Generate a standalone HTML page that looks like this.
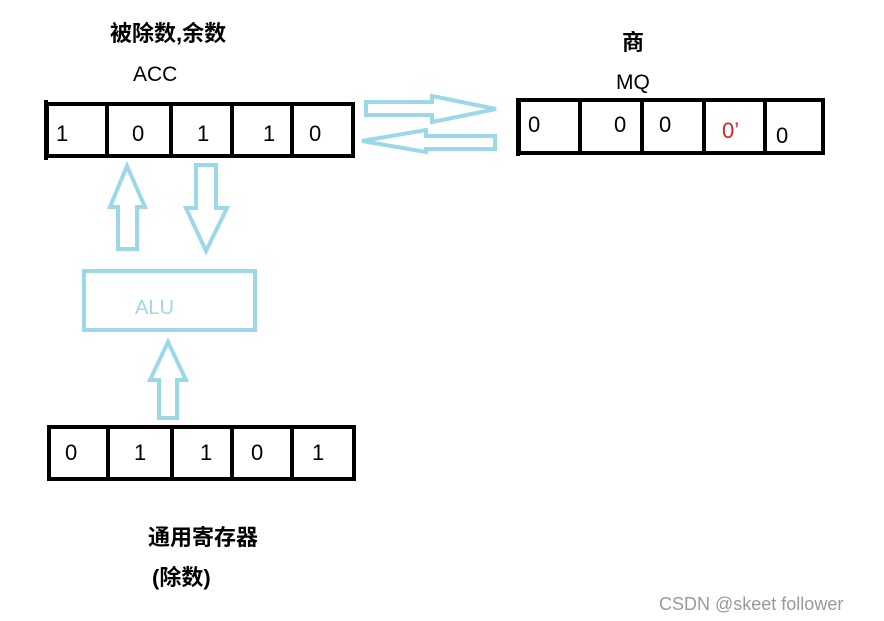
<!DOCTYPE html>
<html><head><meta charset="utf-8"><style>
html,body{margin:0;padding:0;background:#fff;width:884px;height:621px;overflow:hidden}
svg{display:block}
text{font-family:"Liberation Sans","Noto Sans CJK SC",sans-serif}
</style></head><body>
<svg width="884" height="621" viewBox="0 0 884 621" xmlns="http://www.w3.org/2000/svg">
<g font-size="22" fill="#000">
<text x="110" y="41" font-weight="bold">被除数,余数</text>
<text x="133" y="81" font-size="21">ACC</text>
<text x="622" y="50" font-weight="bold">商</text>
<text x="616" y="89" font-size="21">MQ</text>
<text x="148" y="545" font-weight="bold">通用寄存器</text>
<text x="152" y="585" font-weight="bold">(除数)</text>
</g>
<g stroke="#000" stroke-width="4" fill="none">
<rect x="47" y="104" width="306" height="52"/>
<line x1="107" y1="102" x2="107" y2="158"/>
<line x1="171" y1="102" x2="171" y2="158"/>
<line x1="232" y1="102" x2="232" y2="158"/>
<line x1="292" y1="102" x2="292" y2="158"/>
<line x1="46" y1="100" x2="46" y2="160"/>
</g>
<g font-size="22" fill="#000">
<text x="56" y="141">1</text><text x="132" y="141">0</text><text x="197" y="141">1</text><text x="263" y="141">1</text><text x="309" y="141">0</text>
</g>
<g stroke="#000" stroke-width="4" fill="none">
<rect x="519" y="100" width="304" height="53"/>
<line x1="580" y1="98" x2="580" y2="155"/>
<line x1="642" y1="98" x2="642" y2="155"/>
<line x1="704" y1="98" x2="704" y2="155"/>
<line x1="765" y1="98" x2="765" y2="155"/>
<line x1="518" y1="98" x2="518" y2="156"/>
</g>
<g font-size="22" fill="#000">
<text x="528" y="132">0</text><text x="614" y="132">0</text><text x="659" y="132">0</text><text x="722" y="138" fill="#e02020">0’</text><text x="776" y="143">0</text>
</g>
<g stroke="#000" stroke-width="4" fill="none">
<rect x="49" y="427" width="305" height="52"/>
<line x1="108" y1="425" x2="108" y2="481"/>
<line x1="172" y1="425" x2="172" y2="481"/>
<line x1="232" y1="425" x2="232" y2="481"/>
<line x1="292" y1="425" x2="292" y2="481"/>
</g>
<g font-size="22" fill="#000">
<text x="65" y="460">0</text><text x="134" y="460">1</text><text x="200" y="460">1</text><text x="251" y="460">0</text><text x="312" y="460">1</text>
</g>
<g stroke="#9dd8e8" stroke-width="4" fill="none" stroke-linejoin="miter">
<polygon points="366,102 432,102 432,96 496,109 432,122 432,115 366,115"/>
<polygon points="362,141 426,130 426,136 495,136 495,149 426,149 426,152"/>
<polygon points="127,166 145,207 137,207 137,249 118,249 118,207 110,207"/>
<polygon points="196,165 216,165 216,208 227,208 206,251 186,208 196,208"/>
<rect x="84" y="271" width="171" height="59"/>
<polygon points="168,342 186,380 177,380 177,418 159,418 159,380 150,380"/>
</g>
<text x="135" y="314" font-size="20" fill="#9dd8e8">ALU</text>
<text x="659" y="610" font-size="18" fill="#999">CSDN @skeet  follower</text>
</svg>
</body></html>
